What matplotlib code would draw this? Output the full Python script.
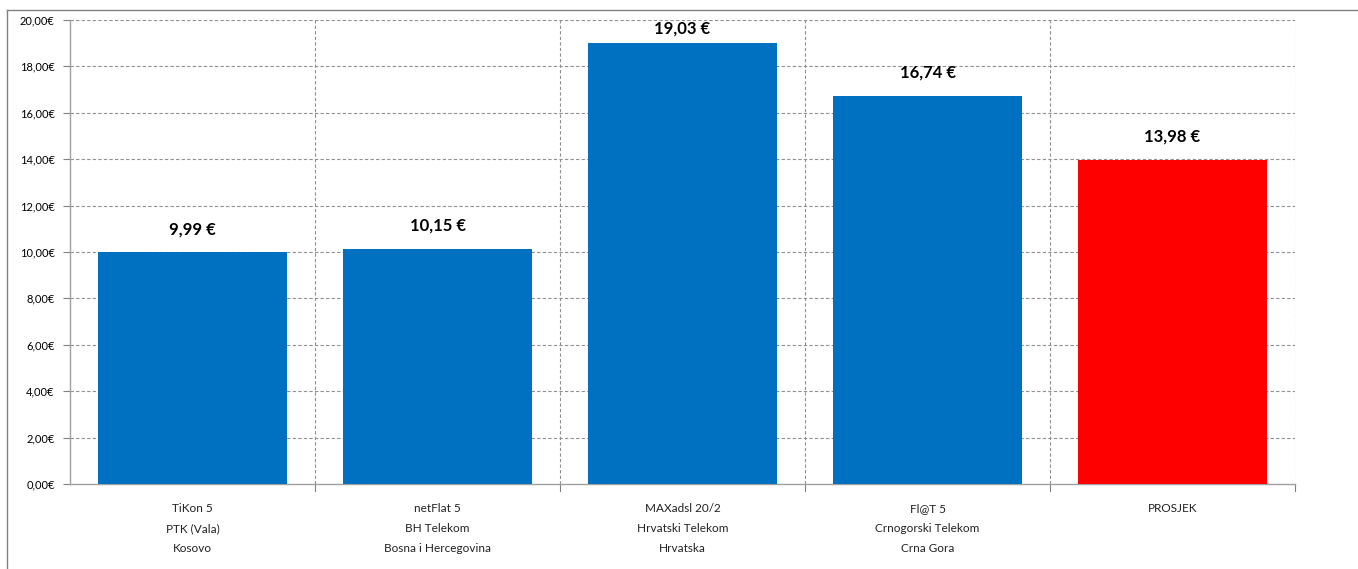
import matplotlib
matplotlib.use("Agg")
import matplotlib.pyplot as plt
from matplotlib.lines import Line2D
import numpy as np

categories = ["TiKon 5\nPTK (Vala)\nKosovo",
              "netFlat 5\nBH Telekom\nBosna i Hercegovina",
              "MAXadsl 20/2\nHrvatski Telekom\nHrvatska",
              "Fl@T 5\nCrnogorski Telekom\nCrna Gora",
              "PROSJEK"]
values = [9.99, 10.15, 19.03, 16.74, 13.98]
value_labels = ["9,99 €", "10,15 €", "19,03 €", "16,74 €", "13,98 €"]
colors = ["#0070C0", "#0070C0", "#0070C0", "#0070C0", "#FF0000"]
yticks = [0, 2, 4, 6, 8, 10, 12, 14, 16, 18, 20]
ytick_labels = ["0,00€", "2,00€", "4,00€", "6,00€", "8,00€", "10,00€",
                "12,00€", "14,00€", "16,00€", "18,00€", "20,00€"]

plt.rcParams['font.family'] = ['Lato', 'DejaVu Sans']

fig = plt.figure(figsize=(13.58, 5.69), dpi=100)
ax = fig.add_axes([70/1358, 1-484/569, (1295-70)/1358, (484-20)/569])

x = np.arange(len(values))
ax.bar(x, values, width=0.77, color=colors, zorder=3)
for xi, v, lab in zip(x, values, value_labels):
    ax.text(xi, min(v + 1.0, 19.65), lab, ha='center', va='center', fontsize=12,
            fontweight='bold', color='black', zorder=4)

ax.set_xlim(-0.5, len(values) - 0.5)
ax.set_ylim(0, 20)
ax.set_yticks(yticks)
ax.set_yticklabels(ytick_labels, fontsize=8)

# category labels
ax.set_xticks(x)
ax.set_xticklabels(categories, fontsize=8.5, linespacing=2.0, color='#222222')
ax.tick_params(axis='x', length=0, pad=14)
ax.tick_params(axis='y', length=5, color='#808080', pad=6)

# gridlines
for yv in yticks[1:]:
    ax.axhline(yv, color='#909090', lw=0.8, ls=(0, (3, 2)), zorder=1)
for b in np.arange(0.5, len(values), 1.0):
    ax.axvline(b, color='#909090', lw=0.8, ls=(0, (3, 2)), zorder=1)
    ax.plot([b, b], [0, -0.3], color='#808080', lw=0.8, clip_on=False, zorder=2)

for s in ['top', 'right']:
    ax.spines[s].set_visible(False)
for s in ['left', 'bottom']:
    ax.spines[s].set_color('#A0A0A0')
    ax.spines[s].set_linewidth(1.0)

# outer chart border
fig.add_artist(Line2D([7/1358, 1.0], [1-10/569, 1-10/569], color='#808080', lw=1.0))
fig.add_artist(Line2D([7/1358, 7/1358], [1-10/569, 0], color='#808080', lw=1.0))

fig.savefig("out.png", dpi=100)
